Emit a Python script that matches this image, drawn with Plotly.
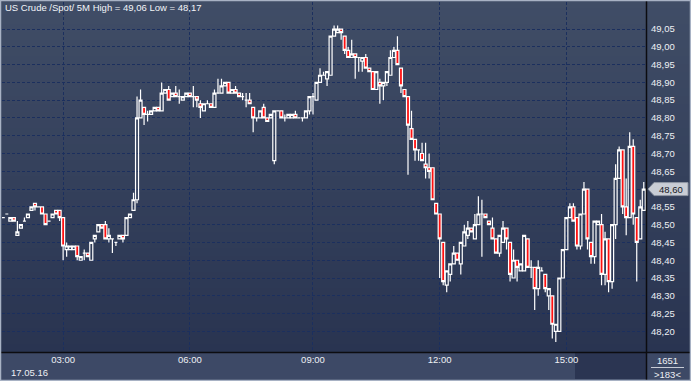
import plotly.graph_objects as go
import pandas as pd

# ---------------- data ----------------
opens = [48.52, 48.53, 48.51, 48.52, 48.47, 48.49, 48.51, 48.52, 48.54, 48.56,
         48.55, 48.55, 48.53, 48.51, 48.52, 48.54, 48.54, 48.52, 48.43, 48.43,
         48.43, 48.44, 48.40, 48.42, 48.42, 48.40, 48.46, 48.48, 48.50, 48.50,
         48.46, 48.46, 48.45, 48.46, 48.47, 48.47, 48.52, 48.54, 48.57, 48.80,
         48.83, 48.81, 48.81, 48.82, 48.83, 48.82, 48.87, 48.88, 48.86, 48.87,
         48.86, 48.85, 48.86, 48.87, 48.86, 48.86, 48.84, 48.82, 48.84, 48.84,
         48.83, 48.87, 48.87, 48.89, 48.90, 48.87, 48.88, 48.87, 48.86, 48.85,
         48.85, 48.83, 48.80, 48.80, 48.83, 48.80, 48.80, 48.68, 48.82, 48.82,
         48.80, 48.80, 48.80, 48.81, 48.80, 48.80, 48.80, 48.82, 48.86, 48.85,
         48.90, 48.92, 48.91, 48.92, 49.03, 49.04, 49.05, 49.03, 48.99, 48.97,
         48.98, 48.97, 48.96, 48.97, 48.94, 48.93, 48.88, 48.90, 48.89, 48.90,
         48.92, 48.97, 48.99, 48.94, 48.88, 48.86, 48.77, 48.74, 48.71, 48.70,
         48.67, 48.66, 48.66, 48.56, 48.53, 48.45, 48.33, 48.36, 48.39, 48.42,
         48.39, 48.44, 48.47, 48.49, 48.46, 48.50, 48.53, 48.53, 48.51, 48.49,
         48.46, 48.42, 48.45, 48.49, 48.45, 48.35, 48.40, 48.37, 48.37, 48.46,
         48.38, 48.38, 48.32, 48.37, 48.36, 48.30, 48.30, 48.20, 48.20, 48.35,
         48.43, 48.52, 48.55, 48.52, 48.44, 48.53, 48.60, 48.45, 48.41, 48.50,
         48.50, 48.36, 48.46, 48.34, 48.50, 48.63, 48.71, 48.55, 48.52, 48.72,
         48.52, 48.46, 48.54]
highs = [48.52, 48.53, 48.52, 48.52, 48.51, 48.50, 48.52, 48.53, 48.55, 48.56,
         48.55, 48.55, 48.53, 48.51, 48.53, 48.54, 48.54, 48.52, 48.45, 48.44,
         48.44, 48.44, 48.41, 48.43, 48.42, 48.45, 48.47, 48.50, 48.50, 48.51,
         48.49, 48.46, 48.45, 48.47, 48.47, 48.52, 48.53, 48.59, 48.86, 48.88,
         48.83, 48.82, 48.82, 48.83, 48.83, 48.90, 48.88, 48.89, 48.87, 48.89,
         48.88, 48.86, 48.87, 48.87, 48.89, 48.86, 48.85, 48.84, 48.85, 48.84,
         48.88, 48.91, 48.91, 48.90, 48.90, 48.88, 48.89, 48.87, 48.87, 48.87,
         48.87, 48.83, 48.80, 48.82, 48.84, 48.80, 48.81, 48.82, 48.82, 48.82,
         48.81, 48.81, 48.81, 48.82, 48.80, 48.80, 48.82, 48.86, 48.87, 48.90,
         48.94, 48.93, 48.93, 49.03, 49.06, 49.06, 49.05, 49.03, 49.00, 49.02,
         48.98, 48.97, 48.97, 48.98, 48.94, 48.93, 48.93, 48.91, 48.90, 48.93,
         48.99, 49.00, 49.03, 48.94, 48.88, 48.86, 48.82, 48.74, 48.71, 48.73,
         48.73, 48.70, 48.66, 48.56, 48.53, 48.45, 48.37, 48.39, 48.44, 48.42,
         48.45, 48.50, 48.51, 48.49, 48.53, 48.58, 48.57, 48.53, 48.51, 48.52,
         48.46, 48.47, 48.51, 48.49, 48.45, 48.43, 48.40, 48.39, 48.47, 48.46,
         48.40, 48.38, 48.40, 48.38, 48.36, 48.32, 48.30, 48.22, 48.35, 48.43,
         48.52, 48.56, 48.56, 48.52, 48.53, 48.62, 48.60, 48.45, 48.51, 48.51,
         48.53, 48.48, 48.46, 48.50, 48.67, 48.72, 48.71, 48.63, 48.76, 48.74,
         48.52, 48.57, 48.62]
lows = [48.52, 48.53, 48.51, 48.51, 48.47, 48.49, 48.51, 48.52, 48.54, 48.54,
        48.55, 48.53, 48.50, 48.51, 48.52, 48.53, 48.51, 48.40, 48.41, 48.43,
        48.43, 48.40, 48.40, 48.40, 48.41, 48.40, 48.45, 48.48, 48.49, 48.46,
        48.45, 48.42, 48.44, 48.46, 48.45, 48.47, 48.52, 48.54, 48.56, 48.80,
        48.78, 48.79, 48.81, 48.82, 48.82, 48.82, 48.87, 48.85, 48.86, 48.86,
        48.84, 48.85, 48.86, 48.86, 48.83, 48.83, 48.80, 48.82, 48.84, 48.83,
        48.83, 48.87, 48.87, 48.89, 48.87, 48.87, 48.87, 48.86, 48.85, 48.83,
        48.84, 48.76, 48.79, 48.80, 48.80, 48.79, 48.80, 48.67, 48.82, 48.80,
        48.79, 48.80, 48.80, 48.80, 48.80, 48.79, 48.80, 48.81, 48.81, 48.85,
        48.90, 48.92, 48.89, 48.92, 49.03, 49.04, 49.02, 48.98, 48.97, 48.97,
        48.91, 48.93, 48.93, 48.94, 48.93, 48.88, 48.88, 48.84, 48.85, 48.89,
        48.92, 48.97, 48.95, 48.87, 48.86, 48.64, 48.74, 48.68, 48.68, 48.68,
        48.63, 48.63, 48.57, 48.53, 48.35, 48.33, 48.31, 48.34, 48.39, 48.40,
        48.36, 48.44, 48.46, 48.48, 48.46, 48.50, 48.41, 48.52, 48.50, 48.46,
        48.42, 48.41, 48.45, 48.43, 48.34, 48.35, 48.34, 48.37, 48.37, 48.38,
        48.35, 48.26, 48.30, 48.37, 48.31, 48.26, 48.18, 48.17, 48.20, 48.35,
        48.43, 48.52, 48.51, 48.43, 48.43, 48.53, 48.43, 48.39, 48.39, 48.50,
        48.33, 48.33, 48.31, 48.32, 48.46, 48.63, 48.53, 48.47, 48.52, 48.50,
        48.34, 48.46, 48.54]
closes = [48.52, 48.53, 48.52, 48.51, 48.48, 48.50, 48.51, 48.53, 48.55, 48.55,
          48.55, 48.53, 48.50, 48.51, 48.53, 48.53, 48.52, 48.44, 48.44, 48.44,
          48.44, 48.41, 48.41, 48.42, 48.41, 48.45, 48.47, 48.50, 48.49, 48.46,
          48.47, 48.46, 48.45, 48.47, 48.46, 48.52, 48.53, 48.57, 48.80, 48.85,
          48.81, 48.81, 48.82, 48.83, 48.82, 48.87, 48.88, 48.85, 48.87, 48.86,
          48.86, 48.86, 48.87, 48.86, 48.86, 48.85, 48.83, 48.84, 48.84, 48.83,
          48.87, 48.87, 48.89, 48.90, 48.87, 48.88, 48.87, 48.86, 48.86, 48.85,
          48.84, 48.80, 48.80, 48.82, 48.80, 48.79, 48.81, 48.82, 48.82, 48.80,
          48.80, 48.81, 48.81, 48.80, 48.80, 48.80, 48.82, 48.86, 48.86, 48.90,
          48.92, 48.92, 48.93, 49.03, 49.05, 49.05, 49.04, 48.99, 48.97, 48.98,
          48.97, 48.97, 48.97, 48.94, 48.93, 48.88, 48.93, 48.89, 48.90, 48.93,
          48.97, 48.99, 48.95, 48.89, 48.86, 48.78, 48.74, 48.71, 48.71, 48.68,
          48.66, 48.65, 48.57, 48.53, 48.46, 48.34, 48.37, 48.39, 48.42, 48.40,
          48.45, 48.48, 48.49, 48.48, 48.50, 48.53, 48.53, 48.52, 48.50, 48.46,
          48.42, 48.47, 48.49, 48.46, 48.36, 48.40, 48.38, 48.39, 48.47, 48.38,
          48.38, 48.32, 48.38, 48.37, 48.32, 48.32, 48.22, 48.22, 48.35, 48.43,
          48.52, 48.55, 48.51, 48.44, 48.53, 48.60, 48.46, 48.41, 48.51, 48.51,
          48.36, 48.46, 48.34, 48.50, 48.63, 48.71, 48.55, 48.52, 48.72, 48.53,
          48.45, 48.55, 48.60]

session_start = "2016-05-17 01:35"
missing_bar = "07:05"
time_ticks = ["03:00", "06:00", "09:00", "12:00", "15:00"]
price_ticks = [48.20, 48.25, 48.30, 48.35, 48.40, 48.45, 48.50, 48.55, 48.60,
               48.65, 48.70, 48.75, 48.80, 48.85, 48.90, 48.95, 49.00, 49.05]
date_label = "17.05.16"
instrument = "US Crude /Spot/ 5M"
clock_label = "1651"

times = pd.date_range(session_start, periods=len(opens) + 1, freq="5min").strftime("%H:%M").tolist()
times.remove(missing_bar)

# ---------------- geometry helpers ----------------
FW, FH = 691, 381
L, R, T, B = 2, 646, 2, 352
PW, PH = R - L, B - T
Y0, Y1 = 48.142, 49.126


def px(x):
    return (x - L) / PW


def py(y):
    return (B - y) / PH


def fmt(v):
    return f"{v:.2f}".replace(".", ",")


last = closes[-1]
# the last-price marker covers the tick label of the same level
price_text = ["" if abs(v - last) < 0.026 else fmt(v) for v in price_ticks]

fig = go.Figure()
fig.add_trace(go.Candlestick(
    x=times, open=opens, high=highs, low=lows, close=closes,
    increasing=dict(line=dict(color="#ffffff", width=1.2), fillcolor="rgba(0,0,0,0)"),
    decreasing=dict(line=dict(color="#ffffff", width=1.2), fillcolor="#ff1010"),
    whiskerwidth=0, showlegend=False, hoverinfo="skip",
))

shapes = []
# gradient background (chart area + price panel)
N = 44
top_c = (64, 77, 102)
bot_c = (41, 52, 81)
for k in range(N):
    f = k / (N - 1)
    c = tuple(int(round(top_c[j] + (bot_c[j] - top_c[j]) * f)) for j in range(3))
    ya = B * k / N
    yb = B * (k + 1) / N + 0.6
    shapes.append(dict(type="rect", xref="paper", yref="paper", layer="below",
                       x0=px(0), x1=px(FW), y0=py(yb), y1=py(ya),
                       fillcolor=f"rgb{c}", line=dict(width=0)))
# bottom time panel
shapes.append(dict(type="rect", xref="paper", yref="paper", layer="below",
                   x0=px(0), x1=px(FW), y0=py(FH), y1=py(B),
                   fillcolor="#3d4966", line=dict(width=0)))
shapes.append(dict(type="rect", xref="paper", yref="paper", layer="below",
                   x0=px(575), x1=px(R), y0=py(FH - 2), y1=py(B),
                   fillcolor="#2b3552", line=dict(width=0)))
# separators
shapes.append(dict(type="line", xref="paper", yref="paper", layer="above",
                   x0=px(R + 0.5), x1=px(R + 0.5), y0=py(FH), y1=py(0),
                   line=dict(color="#0c0c10", width=1.5)))
shapes.append(dict(type="line", xref="paper", yref="paper", layer="above",
                   x0=px(0), x1=px(FW), y0=py(B + 0.5), y1=py(B + 0.5),
                   line=dict(color="#0c0c10", width=1.5)))
# outer frame
shapes.append(dict(type="rect", xref="paper", yref="paper", layer="above",
                   x0=px(0.5), x1=px(FW - 0.5), y0=py(FH - 0.5), y1=py(0.5),
                   line=dict(color="#a8b2c4", width=1.5)))
# line under the clock label
shapes.append(dict(type="line", xref="paper", yref="paper", layer="above",
                   x0=px(651), x1=px(684), y0=py(367.5), y1=py(367.5),
                   line=dict(color="#c8ccd6", width=1)))

# last price marker
yl = B - (last - Y0) / (Y1 - Y0) * PH
pts = [(648, yl), (654, yl - 6.5), (688, yl - 6.5), (688, yl + 6.5), (654, yl + 6.5)]
path = "M " + " L ".join(f"{px(a)},{py(b)}" for a, b in pts) + " Z"
shapes.append(dict(type="path", xref="paper", yref="paper", layer="above", path=path,
                   fillcolor="#c9cdd5", line=dict(color="#8f96a3", width=1)))

font = "Liberation Sans, Arial, sans-serif"
annotations = [
    dict(text=f"{instrument} High = {fmt(max(highs))} Low = {fmt(min(lows))}",
         xref="paper", yref="paper", x=px(3), y=py(8), xanchor="left", yanchor="middle",
         showarrow=False, font=dict(family=font, size=9.5, color="#f2f4f8")),
    dict(text=fmt(last), xref="paper", yref="paper", x=px(657), y=py(yl),
         xanchor="left", yanchor="middle", showarrow=False,
         font=dict(family=font, size=9.5, color="#15181e")),
    dict(text=date_label, xref="paper", yref="paper", x=px(9), y=py(372),
         xanchor="left", yanchor="middle", showarrow=False,
         font=dict(family=font, size=9.5, color="#eef0f4")),
    dict(text=clock_label, xref="paper", yref="paper", x=px(667.5), y=py(360),
         xanchor="center", yanchor="middle", showarrow=False,
         font=dict(family=font, size=9.5, color="#eef0f4")),
    dict(text=f"&gt;{len(opens)}&lt;", xref="paper", yref="paper", x=px(667.5), y=py(374),
         xanchor="center", yanchor="middle", showarrow=False,
         font=dict(family=font, size=9.5, color="#eef0f4")),
]

grid = dict(showgrid=True, gridcolor="#1b2f5e", gridwidth=1, griddash="3px,2px",
            zeroline=False, showline=False, ticks="", fixedrange=True)

fig.update_layout(
    width=FW, height=FH, autosize=False,
    margin=dict(l=L, r=FW - R, t=T, b=FH - B, pad=0),
    paper_bgcolor="#33405c", plot_bgcolor="rgba(0,0,0,0)",
    separators=", ",
    boxgap=0.15, boxgroupgap=0,
    shapes=shapes, annotations=annotations,
    xaxis=dict(type="category", range=[-0.37, len(opens) - 0.37],
               tickvals=time_ticks, ticktext=time_ticks,
               tickfont=dict(family=font, size=9.5, color="#eef0f4"),
               rangeslider=dict(visible=False), **grid),
    yaxis=dict(side="right", range=[Y0, Y1], tickvals=price_ticks,
               ticktext=price_text, ticklabelstandoff=4,
               tickfont=dict(family=font, size=9.5, color="#eef0f4"), **grid),
)

fig.write_html("out.html")
